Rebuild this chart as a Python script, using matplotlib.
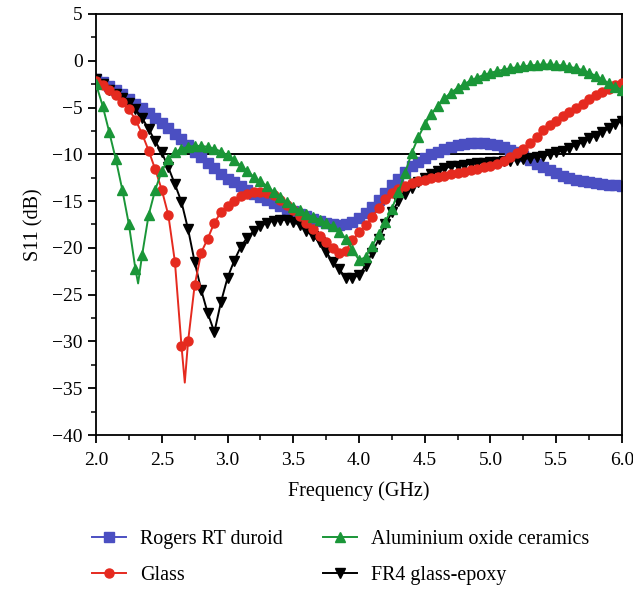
import numpy as np
import matplotlib.pyplot as plt
from matplotlib.ticker import MultipleLocator

plt.rcParams['font.family'] = ['Liberation Serif', 'DejaVu Serif']
plt.rcParams['axes.unicode_minus'] = True

freq = [round(2.0 + 0.05 * i, 2) for i in range(81)]

rogers = [-2.0, -2.3, -2.7, -3.1, -3.6, -4.1, -4.6, -5.1, -5.6, -6.1,
          -6.6, -7.2, -7.8, -8.4, -9.0, -9.7, -10.3, -10.9, -11.5, -12.1,
          -12.6, -13.0, -13.4, -13.8, -14.2, -14.6, -14.9, -15.2, -15.5, -15.8,
          -16.1, -16.4, -16.6, -16.9, -17.1, -17.3, -17.5, -17.6, -17.5, -17.2,
          -16.8, -16.3, -15.6, -14.9, -14.1, -13.3, -12.6, -11.9, -11.3, -10.8,
          -10.4, -10.0, -9.7, -9.4, -9.2, -9.0, -8.9, -8.8, -8.8, -8.8,
          -8.9, -9.0, -9.2, -9.5, -9.8, -10.2, -10.6, -11.0, -11.4, -11.7,
          -12.0, -12.3, -12.5, -12.7, -12.9, -13.0, -13.1, -13.2, -13.3, -13.3,
          -13.4]

glass = [-2.2, -2.6, -3.1, -3.7, -4.4, -5.2, -6.3, -7.8, -9.6, -11.6,
         -13.8, -16.5, -21.5, -30.5, -30.0, -24.0, -20.5, -19.0, -17.3, -16.2,
         -15.5, -15.0, -14.5, -14.2, -14.0, -14.0, -14.1, -14.4, -14.9, -15.4,
         -15.9, -16.6, -17.3, -18.0, -18.7, -19.4, -20.0, -20.5, -20.3, -19.2,
         -18.3, -17.6, -16.7, -15.7, -14.8, -14.1, -13.7, -13.4, -13.1, -12.9,
         -12.7, -12.5, -12.4, -12.3, -12.1, -12.0, -11.9, -11.7, -11.6, -11.4,
         -11.2, -11.0, -10.7, -10.3, -9.9, -9.4, -8.8, -8.1, -7.4, -6.9,
         -6.4, -5.9, -5.5, -5.0, -4.6, -4.1, -3.7, -3.3, -3.0, -2.6,
         -2.4]
glass_tip = (2.675, -34.4)

alumina = [-2.5, -4.8, -7.6, -10.5, -13.8, -17.5, -22.3, -20.8, -16.5, -13.8,
           -11.8, -10.5, -9.8, -9.4, -9.2, -9.1, -9.1, -9.2, -9.4, -9.7,
           -10.1, -10.6, -11.2, -11.8, -12.4, -12.9, -13.4, -14.0, -14.6, -15.1,
           -15.6, -16.0, -16.4, -16.7, -17.0, -17.3, -17.7, -18.3, -19.0, -20.2,
           -21.3, -21.0, -19.8, -18.5, -17.2, -15.8, -14.0, -12.0, -9.9, -8.2,
           -6.8, -5.7, -4.8, -4.0, -3.4, -2.9, -2.5, -2.1, -1.8, -1.5,
           -1.3, -1.1, -0.95, -0.8, -0.7, -0.6, -0.5, -0.45, -0.4, -0.4,
           -0.45, -0.5, -0.65, -0.8, -1.0, -1.3, -1.6, -2.0, -2.4, -2.8,
           -3.1]
alumina_tip = (2.32, -23.8)

fr4 = [-2.0, -2.5, -3.1, -3.6, -4.0, -4.5, -5.2, -6.1, -7.3, -8.6,
       -9.8, -11.4, -13.2, -15.1, -18.0, -21.5, -24.5, -27.0, -29.0, -25.8,
       -23.2, -21.4, -19.9, -18.9, -18.2, -17.7, -17.3, -17.1, -17.0, -17.0,
       -17.2, -17.6, -18.2, -18.7, -19.4, -20.4, -21.5, -22.3, -23.2, -23.2,
       -22.9, -21.9, -20.5, -19.1, -17.5, -16.2, -15.0, -14.2, -13.6, -13.0,
       -12.5, -12.1, -11.8, -11.5, -11.3, -11.2, -11.1, -11.0, -10.9, -10.9,
       -10.8, -10.8, -10.7, -10.7, -10.6, -10.5, -10.4, -10.3, -10.2, -10.0,
       -9.8, -9.6, -9.3, -9.0, -8.7, -8.3, -8.0, -7.6, -7.2, -6.8,
       -6.4]


def with_tip(x, y, tip):
    # add the sharp resonance point to the line, but keep markers on the grid
    i = int(np.searchsorted(x, tip[0]))
    xs = list(x[:i]) + [tip[0]] + list(x[i:])
    ys = list(y[:i]) + [tip[1]] + list(y[i:])
    marks = [k for k in range(len(xs)) if k != i]
    return xs, ys, marks


fig = plt.figure(figsize=(6.33, 5.92), dpi=100)
ax = fig.add_axes([0.1517, 0.2652, 0.8309, 0.7112])

ax.axhline(-10, color='black', lw=1.4, zorder=1)

ms = 6.5
ax.plot(freq, rogers, color='#4b4fc2', marker='s', ms=ms, lw=1.4,
        label='Rogers RT duroid', zorder=2)
ax.plot(freq, fr4, color='black', marker='v', ms=ms, lw=1.4,
        label='FR4 glass-epoxy', zorder=3)
gx, gy, gm = with_tip(freq, glass, glass_tip)
ax.plot(gx, gy, color='#e52a1f', marker='o', ms=ms, lw=1.4, markevery=gm,
        label='Glass', zorder=4)
ax_, ay, am = with_tip(freq, alumina, alumina_tip)
ax.plot(ax_, ay, color='#1a9638', marker='^', ms=ms, lw=1.4, markevery=am,
        label='Aluminium oxide ceramics', zorder=5)

ax.set_xlim(2.0, 6.0)
ax.set_ylim(-40, 5)
ax.xaxis.set_major_locator(MultipleLocator(0.5))
ax.xaxis.set_minor_locator(MultipleLocator(0.25))
ax.yaxis.set_major_locator(MultipleLocator(5))
ax.yaxis.set_minor_locator(MultipleLocator(2.5))
ax.xaxis.set_major_formatter(plt.FormatStrFormatter('%.1f'))
ax.tick_params(which='major', direction='out', length=6, width=1.3, labelsize=14)
ax.tick_params(axis='x', which='major', pad=6)
ax.tick_params(which='minor', direction='out', length=3.5, width=1.1)
for sp in ax.spines.values():
    sp.set_linewidth(1.3)

ax.set_xlabel('Frequency (GHz)', fontsize=14.5, labelpad=9)
ax.set_ylabel('S11 (dB)', fontsize=14.5, labelpad=6)

handles, labels = ax.get_legend_handles_labels()
order = [0, 2, 3, 1]
fig.legend([handles[i] for i in order], [labels[i] for i in order],
           loc='upper left', bbox_to_anchor=(0.117, 0.135), ncol=2,
           frameon=False, fontsize=14.4, handlelength=1.7, handletextpad=0.7,
           columnspacing=2.0, labelspacing=0.85)

fig.savefig('out.png', dpi=100)
